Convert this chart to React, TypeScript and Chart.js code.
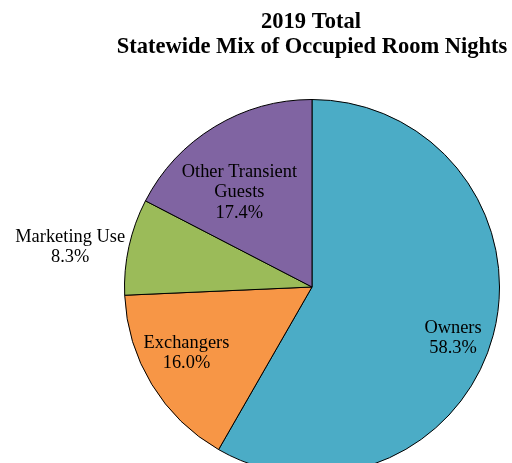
import React, { useEffect, useRef } from "react";
import { Chart, registerables } from "chart.js";

Chart.register(...registerables);

const categories = ["Owners", "Exchangers", "Marketing Use", "Other Transient Guests"];
const values = [58.3, 16.0, 8.3, 17.4];
const valueLabels = ["58.3%", "16.0%", "8.3%", "17.4%"];
const labelLines = [["Owners"], ["Exchangers"], ["Marketing Use"], ["Other Transient", "Guests"]];
const colors = ["#4BACC6", "#F79646", "#9BBB59", "#8064A2"];
const titleLines = ["2019 Total", "Statewide Mix of Occupied Room Nights"];

// label placement: radius factor and angle offset (degrees) from slice middle
const labelPlacement = [
  { r: 0.8, off: 5 },
  { r: 0.757, off: 3.5 },
  { r: 1.307, off: -3.1 },
  { r: 0.636, off: -6.2 },
];

const W = 512;
const H = 480;

export default function App() {
  const ref = useRef<HTMLCanvasElement | null>(null);
  useEffect(() => {
    const canvas = ref.current!;
    const labelPlugin = {
      id: "customLabels",
      afterDraw(chart: any) {
        const ctx = chart.ctx as CanvasRenderingContext2D;
        ctx.save();
        ctx.fillStyle = "#000";
        ctx.textAlign = "center";
        ctx.textBaseline = "alphabetic";
        ctx.font = "bold 22.5px 'Liberation Serif', 'Times New Roman', serif";
        ctx.fillText(titleLines[0], 311, 28);
        ctx.fillText(titleLines[1], 312, 53);

        const meta = chart.getDatasetMeta(0);
        ctx.font = "18.4px 'Liberation Serif', 'Times New Roman', serif";
        ctx.textBaseline = "middle";
        const lh = 20.7;
        meta.data.forEach((arc: any, i: number) => {
          const p = arc.getProps(["x", "y", "startAngle", "endAngle", "outerRadius"], true);
          const mid = (p.startAngle + p.endAngle) / 2 + (labelPlacement[i].off * Math.PI) / 180;
          const d = p.outerRadius * labelPlacement[i].r;
          const cx = p.x + Math.cos(mid) * d;
          const cy = p.y + Math.sin(mid) * d;
          const lines = [...labelLines[i], valueLabels[i]];
          const top = cy - ((lines.length - 1) * lh) / 2;
          lines.forEach((t, k) => ctx.fillText(t, cx, top + k * lh));
        });
        ctx.restore();
      },
    };
    const chart = new Chart(canvas, {
      type: "pie",
      data: {
        labels: categories,
        datasets: [
          {
            data: values,
            backgroundColor: colors,
            borderColor: "#000000",
            borderWidth: 1,
          },
        ],
      },
      options: {
        responsive: false,
        animation: false,
        layout: { padding: { left: 124, right: 12, top: 99, bottom: 5 } },
        plugins: {
          legend: { display: false },
          title: { display: false },
          tooltip: { enabled: false },
        },
      },
      plugins: [labelPlugin],
    });
    return () => chart.destroy();
  }, []);
  return (
    <div style={{ position: "fixed", left: 0, top: 0, width: 512, height: 463, overflow: "hidden", background: "#fff" }}>
      <canvas ref={ref} width={W} height={H} style={{ width: W, height: H, display: "block" }} />
    </div>
  );
}
